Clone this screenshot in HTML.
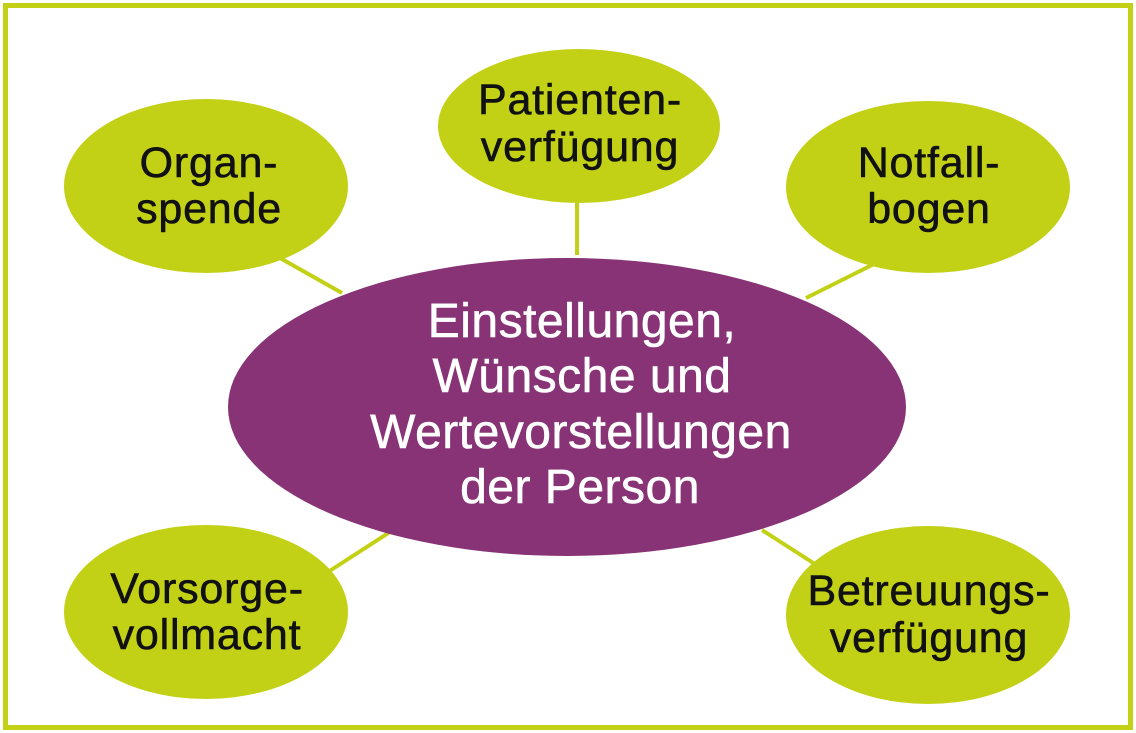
<!DOCTYPE html>
<html><head><meta charset="utf-8"><style>
html,body{margin:0;padding:0;background:#fff;width:1136px;height:733px;overflow:hidden}
svg text{font-family:"Liberation Sans",Arial,sans-serif}
</style></head><body>
<svg width="1136" height="733" viewBox="0 0 1136 733" xmlns="http://www.w3.org/2000/svg">
<rect x="5.5" y="5.5" width="1125" height="722" fill="#fff" stroke="#c3d116" stroke-width="5"/>
<g stroke="#c3d116" stroke-width="4">
<line x1="577" y1="195" x2="577" y2="255"/>
<line x1="280" y1="258" x2="342" y2="293"/>
<line x1="878" y1="262" x2="806" y2="298"/>
<line x1="328" y1="572" x2="390" y2="532"/>
<line x1="762" y1="530" x2="818" y2="566"/>
</g>
<g fill="#c3d116">
<ellipse cx="579" cy="126" rx="141" ry="77"/>
<ellipse cx="206" cy="186" rx="142" ry="87"/>
<ellipse cx="928" cy="187" rx="142" ry="86"/>
<ellipse cx="206" cy="612" rx="142" ry="87"/>
<ellipse cx="928" cy="615" rx="142" ry="89"/>
</g>
<ellipse cx="567" cy="407" rx="339" ry="149" fill="#873375"/>
<g fill="#111" stroke="#111" stroke-width="0.6" font-size="43" letter-spacing="0.8" text-anchor="middle">
<text x="580" y="114">Patienten-</text><text x="580" y="161">verfügung</text>
<text x="209" y="177">Organ-</text><text x="209" y="223">spende</text>
<text x="929" y="177">Notfall-</text><text x="929" y="223">bogen</text>
<text x="207" y="603">Vorsorge-</text><text x="207" y="649">vollmacht</text>
<text x="929" y="605">Betreuungs-</text><text x="929" y="652">verfügung</text>
</g>
<g fill="#fff" stroke="#fff" stroke-width="0.6" font-size="48" letter-spacing="0.5" text-anchor="middle">
<text x="582" y="337">Einstellungen,</text>
<text x="582" y="392">Wünsche und</text>
<text x="581" y="448">Wertevorstellungen</text>
<text x="580" y="503">der Person</text>
</g>
</svg>
</body></html>
